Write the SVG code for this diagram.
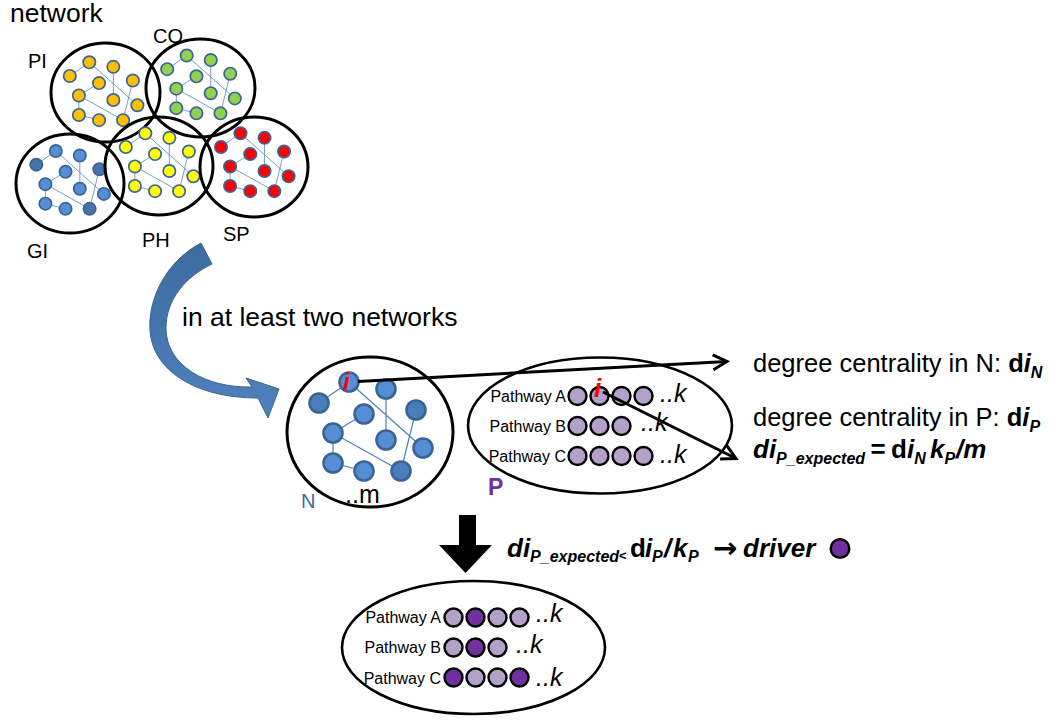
<svg xmlns="http://www.w3.org/2000/svg" width="1060" height="728" viewBox="0 0 1060 728">
<defs>
<style>
text{font-family:"Liberation Sans",Arial,sans-serif;fill:#000}
.lbl{font-size:20px}
.big{font-size:26.5px}
.rt{font-size:25.5px}
.pw{font-size:16px;text-anchor:end}
.kk{font-size:25px;font-style:italic}
.bi{font-weight:bold;font-style:italic}
.b{font-weight:bold;font-style:normal}
.ring{fill:none;stroke:#000;stroke-width:3}
.edge{stroke:#4f81bd;stroke-width:1.2;fill:none}
.nd{stroke:#3b6496;stroke-width:2.6}
.dk{fill:var(--dk)}
.pc{stroke:#000;stroke-width:2.4;fill:#b3a2c7}
.pd{fill:#7030a0}
.arr{stroke:#000;stroke-width:3;fill:none}
.redi{fill:#ff0000;font-weight:bold;font-style:italic}
</style>
<linearGradient id="bg" x1="0" y1="0" x2="0" y2="1">
<stop offset="0" stop-color="#3d6a9f"/><stop offset="1" stop-color="#4f81bd"/>
</linearGradient>
<marker id="chev" markerUnits="userSpaceOnUse" markerWidth="30" markerHeight="30" viewBox="-20 -15 30 30" refX="0" refY="0" orient="auto" overflow="visible">
<path d="M-14,-7.5 L0,0 L-14,7.5" fill="none" stroke="#000" stroke-width="3"/>
</marker>
<g id="tpl">
<path class="edge" d="M0,0 L-30,21 M0,0 L74,66 M37,7 L37,58 M15,32 L-16,51 M-16,51 L-16,81 M-16,51 L52,89 M-16,81 L15,89 M67,28 L52,89"/>
<circle class="nd" cx="0" cy="0" r="9.5"/>
<circle class="nd dk" cx="-30" cy="21" r="9.5"/>
<circle class="nd" cx="37" cy="7" r="9.5"/>
<circle class="nd" cx="15" cy="32" r="9.5"/>
<circle class="nd dk" cx="67" cy="28" r="9.5"/>
<circle class="nd" cx="-16" cy="51" r="9.5"/>
<circle class="nd" cx="37" cy="58" r="9.5"/>
<circle class="nd" cx="74" cy="66" r="9.5"/>
<circle class="nd" cx="-16" cy="81" r="9.5"/>
<circle class="nd" cx="15" cy="89" r="9.5"/>
<circle class="nd dk" cx="52" cy="89" r="9.5"/>
</g>
</defs>
<rect width="1060" height="728" fill="#fff"/>

<text class="big" x="10" y="22">network</text>

<g id="cluster-PI">
<use href="#tpl" transform="translate(89.3,62.3) scale(0.65)" fill="#ffc000"/>
<ellipse class="ring" cx="105.5" cy="92.5" rx="54.5" ry="49.5"/>
<text class="lbl" x="28" y="68">PI</text>
</g>
<g id="cluster-CO">
<use href="#tpl" transform="translate(186.7,55.5) scale(0.65)" fill="#92d050"/>
<ellipse class="ring" cx="200.5" cy="88" rx="54.5" ry="49"/>
<text class="lbl" x="153" y="43">CO</text>
</g>
<g id="cluster-GI">
<use href="#tpl" transform="translate(55.8,151) scale(0.65)" fill="#558ed5" style="--dk:#4673a8"/>
<ellipse class="ring" cx="70" cy="183.5" rx="54" ry="49.5"/>
<text class="lbl" x="27" y="258">GI</text>
</g>
<g id="cluster-PH">
<use href="#tpl" transform="translate(145.3,133.3) scale(0.65)" fill="#ffff00"/>
<ellipse class="ring" cx="159" cy="166" rx="54" ry="49"/>
<text class="lbl" x="142" y="247">PH</text>
</g>
<g id="cluster-SP">
<use href="#tpl" transform="translate(240.5,133.3) scale(0.65)" fill="#ff0000"/>
<ellipse class="ring" cx="254" cy="167" rx="54" ry="50"/>
<text class="lbl" x="223" y="241">SP</text>
</g>

<text class="big" x="182" y="326">in at least two networks</text>

<g id="node-N">
<ellipse class="ring" cx="370" cy="432" rx="83" ry="75"/>
<use href="#tpl" transform="translate(349,382)" fill="#558ed5" style="--dk:#4a7ebb"/>
<text class="redi" x="343" y="390" font-size="24">i</text>
<text x="301" y="508" font-size="20" style="fill:#3a6ba5">N</text>
<text x="345" y="503" font-size="25">..m</text>
</g>

<g id="node-P">
<ellipse cx="600" cy="425.5" rx="132" ry="68" fill="none" stroke="#000" stroke-width="2.6"/>
<text class="pw" x="566" y="402">Pathway A</text>
<text class="pw" x="566" y="432">Pathway B</text>
<text class="pw" x="566" y="462">Pathway C</text>
<circle class="pc" cx="577.5" cy="396" r="9"/>
<circle class="pc" cx="599.5" cy="396" r="9"/>
<circle class="pc" cx="621.5" cy="396" r="9"/>
<circle class="pc" cx="643.5" cy="396" r="9"/>
<circle class="pc" cx="577.5" cy="426" r="9"/>
<circle class="pc" cx="599.5" cy="426" r="9"/>
<circle class="pc" cx="621.5" cy="426" r="9"/>
<circle class="pc" cx="577.5" cy="456" r="9"/>
<circle class="pc" cx="599.5" cy="456" r="9"/>
<circle class="pc" cx="621.5" cy="456" r="9"/>
<circle class="pc" cx="643.5" cy="456" r="9"/>
<text class="kk" x="660" y="402">..k</text>
<text class="kk" x="641" y="431">..k</text>
<text class="kk" x="660" y="463">..k</text>
<text class="redi" x="594" y="397" font-size="26">i</text>
<text x="488" y="495" font-size="23" font-weight="bold" style="fill:#7030a0">P</text>
</g>

<g id="connectors">
<path d="M201,243 C165,262 148,300 150,330 C152,370 195,398 258,398 L268,418 L279,389 L246,378 L252,387 C205,388 166,365 166,328 C166,300 185,277 212,264 Z" fill="url(#bg)" stroke="#3a6593" stroke-width="1"/>
<path class="arr" d="M358,381.5 L727,361.5" marker-end="url(#chev)"/>
<path class="arr" d="M603,392 L736,458.5" marker-end="url(#chev)"/>
<path d="M459,515 H476 V545 H492 L465.5,573 L439,545 H459 Z" fill="#000"/>
</g>

<g id="text-right">
<text class="rt" x="753" y="372">degree centrality in N: <tspan class="b">d</tspan><tspan class="bi">i</tspan><tspan class="bi" font-size="16" dy="6">N</tspan></text>
<text class="rt" x="753" y="426">degree centrality in P: <tspan class="b">d</tspan><tspan class="bi">i</tspan><tspan class="bi" font-size="16" dy="6">P</tspan></text>
<text class="bi" font-size="26" x="753" y="458">di<tspan font-size="16" dy="6">P_expected</tspan><tspan dy="-6" x="870">=</tspan><tspan class="b" x="891">d</tspan><tspan>i</tspan><tspan font-size="16" dy="6">N</tspan><tspan dy="-6" x="930">k</tspan><tspan font-size="16" dy="6">P</tspan><tspan dy="-6" x="956">/m</tspan></text>
</g>

<g id="text-driver">
<text class="bi" font-size="26" x="507" y="557">di<tspan font-size="16" dy="5">P_expected</tspan></text>
<text class="b" font-size="13" x="619" y="560">&lt;</text>
<text class="b" font-size="26" x="630" y="557">d</text>
<text class="bi" font-size="26" x="645" y="557">i</text>
<text class="bi" font-size="16" x="652" y="562">P</text>
<text class="bi" font-size="26" x="664" y="557">/</text>
<text class="bi" font-size="26" x="673" y="557">k</text>
<text class="bi" font-size="16" x="688" y="562">P</text>
<text x="713" y="558" font-size="29" font-weight="bold" style="font-family:'DejaVu Sans',sans-serif">→</text>
<text class="bi" font-size="26" x="743" y="557">driver</text>
<circle cx="840" cy="548.5" r="9.3" fill="#7030a0" stroke="#000" stroke-width="2.4"/>
</g>

<g id="node-result">
<ellipse cx="473.5" cy="647.5" rx="131.5" ry="66.5" fill="none" stroke="#000" stroke-width="2.6"/>
<text class="pw" x="441" y="623">Pathway A</text>
<text class="pw" x="441" y="653">Pathway B</text>
<text class="pw" x="441" y="684">Pathway C</text>
<circle class="pc" cx="453.5" cy="617.5" r="9"/>
<circle class="pc pd" cx="475.5" cy="617.5" r="9"/>
<circle class="pc" cx="497.5" cy="617.5" r="9"/>
<circle class="pc" cx="519.5" cy="617.5" r="9"/>
<circle class="pc" cx="453.5" cy="647.5" r="9"/>
<circle class="pc pd" cx="475.5" cy="647.5" r="9"/>
<circle class="pc" cx="497.5" cy="647.5" r="9"/>
<circle class="pc pd" cx="453.5" cy="677.5" r="9"/>
<circle class="pc" cx="475.5" cy="677.5" r="9"/>
<circle class="pc" cx="497.5" cy="677.5" r="9"/>
<circle class="pc pd" cx="519.5" cy="677.5" r="9"/>
<text class="kk" x="536" y="622">..k</text>
<text class="kk" x="516" y="653">..k</text>
<text class="kk" x="536" y="686">..k</text>
</g>
</svg>
